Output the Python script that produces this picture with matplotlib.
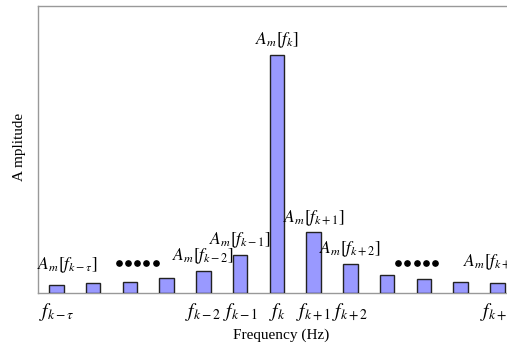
import matplotlib
matplotlib.use("Agg")
import matplotlib.pyplot as plt
import numpy as np

plt.rcParams['font.family'] = ['Liberation Serif', 'DejaVu Serif']
plt.rcParams['mathtext.fontset'] = 'stix'

# Spectral line amplitudes around the central frequency f_k
amplitudes = [0.032, 0.041, 0.047, 0.062, 0.094, 0.160, 1.0,
              0.255, 0.123, 0.077, 0.058, 0.047, 0.043]
tick_positions = [0, 4, 5, 6, 7, 8, 12]
tick_labels = [r'$f_{k-\tau}$', r'$f_{k-2}$', r'$f_{k-1}$', r'$f_{k}$',
               r'$f_{k+1}$', r'$f_{k+2}$', r'$f_{k+\tau}$']
bar_label_index = [4, 5, 6, 7, 8]
bar_label_text = [r'$A_m[f_{k-2}]$', r'$A_m[f_{k-1}]$', r'$A_m[f_{k}]$',
                  r'$A_m[f_{k+1}]$', r'$A_m[f_{k+2}]$']

W, H = 507, 354
fig = plt.figure(figsize=(W / 100, H / 100), dpi=100)
ax = fig.add_axes([38 / W, 1 - 293 / H, 1 - 38 / W + 0.01, 287 / H])

x = np.arange(len(amplitudes))
ax.bar(x, amplitudes, width=0.4, color='#9999ff', edgecolor='#222222',
       linewidth=1.0, zorder=3)

ax.set_xlim(-0.5, 12.4)
ax.set_ylim(0, 1.206)
ax.set_yticks([])
ax.set_xticks(tick_positions)
ax.set_xticklabels(tick_labels, fontsize=14)
ax.tick_params(axis='x', length=0, pad=6)

for s in ['top', 'left', 'bottom']:
    ax.spines[s].set_color('#999999')
    ax.spines[s].set_linewidth(1.0)
ax.spines['right'].set_visible(False)

for i, t in zip(bar_label_index, bar_label_text):
    ax.text(x[i], amplitudes[i] + 0.02, t, ha='center', va='bottom', fontsize=12.5)

ax.text(0.3, amplitudes[0] + 0.045, r'$A_m[f_{k-\tau}]$', ha='center',
        va='bottom', fontsize=12.5)
ax.text(11.07, amplitudes[11] + 0.04, r'$A_m[f_{k+\tau}]$', ha='left',
        va='bottom', fontsize=12.5, clip_on=False)

# Ellipses marking the omitted spectral lines
for xc in [2.2, 9.8]:
    ax.plot(np.linspace(xc - 0.5, xc + 0.5, 5), [0.128] * 5, 'o',
            color='black', markersize=3.8, zorder=4, clip_on=False)

fig.text(281 / W, 1 - 335 / H, 'Frequency (Hz)', ha='center', va='center',
         fontsize=11)
fig.text(20 / W, 1 - 147 / H, 'A mplitude', ha='center', va='center',
         rotation=90, fontsize=11)

fig.savefig('out.png', dpi=100)
